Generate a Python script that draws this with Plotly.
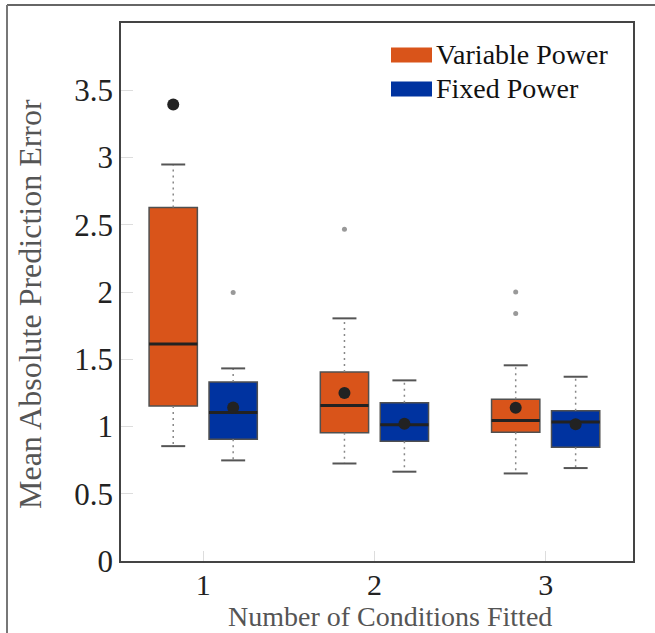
import plotly.graph_objects as go

# ---- data ----
categories = [1, 2, 3]
series_names = ["Variable Power", "Fixed Power"]

var_lower = [0.854, 0.725, 0.651]
var_q1 = [1.152, 0.954, 0.958]
var_median = [1.613, 1.157, 1.045]
var_q3 = [2.628, 1.405, 1.202]
var_upper = [2.948, 1.804, 1.455]
var_mean = [3.394, 1.249, 1.140]
var_outliers = [[], [2.467], [2.000, 1.841]]

fix_lower = [0.748, 0.664, 0.691]
fix_q1 = [0.906, 0.891, 0.845]
fix_median = [1.105, 1.013, 1.033]
fix_q3 = [1.331, 1.177, 1.117]
fix_upper = [1.432, 1.343, 1.370]
fix_mean = [1.142, 1.021, 1.016]
fix_outliers = [[1.996], [], []]

y_ticks = [0, 0.5, 1, 1.5, 2, 2.5, 3, 3.5]
y_tick_labels = ["0", "0.5", "1", "1.5", "2", "2.5", "3", "3.5"]
x_title = "Number of Conditions Fitted"
y_title = "Mean Absolute Prediction Error"

# ---- styles ----
COLORS = ["#D9541A", "#0033A0"]
OFFSETS = [-0.175, 0.175]
BOX_W = 0.282
CAP_W = 0.14
FONT = "Liberation Serif, Times New Roman, serif"
TICK_SIZE = 31
XTICK_SIZE = 30
XTITLE_SIZE = 28
YTITLE_SIZE = 32
LEGEND_SIZE = 28
PL, PR, PT, PB = 121, 633, 23, 561  # plot area in pixels
PW, PH = PR - PL, PB - PT


def px(xp):
    return (xp - PL) / PW


def py(yp):
    return (PB - yp) / PH


series = [
    dict(lower=var_lower, q1=var_q1, med=var_median, q3=var_q3, up=var_upper,
         mean=var_mean, out=var_outliers),
    dict(lower=fix_lower, q1=fix_q1, med=fix_median, q3=fix_q3, up=fix_upper,
         mean=fix_mean, out=fix_outliers),
]

fig = go.Figure()

for s, name, col, off in zip(series, series_names, COLORS, OFFSETS):
    xs = [c + off for c in categories]
    # whiskers (dotted)
    wx, wy = [], []
    for x, q1, q3, lo, up in zip(xs, s["q1"], s["q3"], s["lower"], s["up"]):
        wx += [x, x, None, x, x, None]
        wy += [q3, up, None, q1, lo, None]
    fig.add_trace(go.Scatter(x=wx, y=wy, mode="lines", showlegend=False,
                             line=dict(color="#888888", width=1.5, dash="2px,4px"),
                             hoverinfo="skip"))
    # caps
    cx, cy = [], []
    for x, lo, up in zip(xs, s["lower"], s["up"]):
        cx += [x - CAP_W / 2, x + CAP_W / 2, None, x - CAP_W / 2, x + CAP_W / 2, None]
        cy += [up, up, None, lo, lo, None]
    fig.add_trace(go.Scatter(x=cx, y=cy, mode="lines", showlegend=False,
                             line=dict(color="#555555", width=2), hoverinfo="skip"))
    # boxes
    fig.add_trace(go.Bar(x=xs, y=[q3 - q1 for q1, q3 in zip(s["q1"], s["q3"])],
                         base=s["q1"], width=BOX_W, name=name, showlegend=False,
                         marker=dict(color=col, line=dict(color="#505050", width=1.5))))
    # medians
    mx, my = [], []
    for x, m in zip(xs, s["med"]):
        mx += [x - BOX_W / 2, x + BOX_W / 2, None]
        my += [m, m, None]
    fig.add_trace(go.Scatter(x=mx, y=my, mode="lines", showlegend=False,
                             line=dict(color="#222222", width=3), hoverinfo="skip"))
    # outliers
    ox, oy = [], []
    for x, outs in zip(xs, s["out"]):
        for o in outs:
            ox.append(x)
            oy.append(o)
    fig.add_trace(go.Scatter(x=ox, y=oy, mode="markers", showlegend=False,
                             marker=dict(color="#999999", size=5)))
    # means
    fig.add_trace(go.Scatter(x=xs, y=s["mean"], mode="markers", showlegend=False,
                             marker=dict(color="#222222", size=12)))

# manual legend
shapes = []
annotations = []
leg_y = [py(55), py(89)]
for (yy, col, name) in zip(leg_y, COLORS, series_names):
    shapes.append(dict(type="rect", xref="paper", yref="paper",
                       x0=px(391), x1=px(432),
                       y0=yy - 7.5 / PH, y1=yy + 7.5 / PH,
                       fillcolor=col, line=dict(width=0)))
    annotations.append(dict(xref="paper", yref="paper", x=px(434), y=yy,
                            xanchor="left", yanchor="middle", text=name, showarrow=False,
                            font=dict(family=FONT, size=LEGEND_SIZE, color="#111111")))

# axis titles
annotations.append(dict(xref="paper", yref="paper", x=px(390), y=py(617),
                        xanchor="center", yanchor="middle", text=x_title, showarrow=False,
                        font=dict(family=FONT, size=XTITLE_SIZE, color="#555555")))
annotations.append(dict(xref="paper", yref="paper", x=px(30), y=py(304),
                        xanchor="center", yanchor="middle", text=y_title, showarrow=False,
                        textangle=-90,
                        font=dict(family=FONT, size=YTITLE_SIZE, color="#555555")))

# outer frame lines
shapes.append(dict(type="line", xref="paper", yref="paper",
                   x0=px(7), x1=2, y0=py(5), y1=py(5),
                   line=dict(color="#333333", width=1.5)))
shapes.append(dict(type="line", xref="paper", yref="paper",
                   x0=px(7), x1=px(7), y0=py(5), y1=-0.5,
                   line=dict(color="#777777", width=2)))

fig.update_layout(
    width=655, height=633,
    margin=dict(l=PL, r=655 - PR, t=PT, b=633 - PB),
    paper_bgcolor="white", plot_bgcolor="white",
    barmode="overlay",
    font=dict(family=FONT, size=TICK_SIZE, color="#222222"),
    shapes=shapes, annotations=annotations,
    showlegend=False,
    xaxis=dict(range=[0.52, 3.51], tickvals=categories, ticktext=[str(c) for c in categories],
               automargin=False, ticklabelstandoff=-4,
               showgrid=False, zeroline=False, showline=True, linecolor="#444444", linewidth=1.5,
               mirror=True, ticks="inside", ticklen=10, tickcolor="#dddddd",
               tickfont=dict(size=XTICK_SIZE, color="#222222")),
    yaxis=dict(range=[0, 4.0], tickvals=y_ticks, ticktext=y_tick_labels,
               automargin=False,
               showgrid=False, zeroline=False, showline=True, linecolor="#444444", linewidth=1.5,
               mirror=True, ticks="inside", ticklen=12, tickcolor="#dddddd",
               tickfont=dict(size=TICK_SIZE, color="#222222")),
)

fig.write_html("out.html", config={"displayModeBar": False},
               post_script="document.body.style.margin='0';")
